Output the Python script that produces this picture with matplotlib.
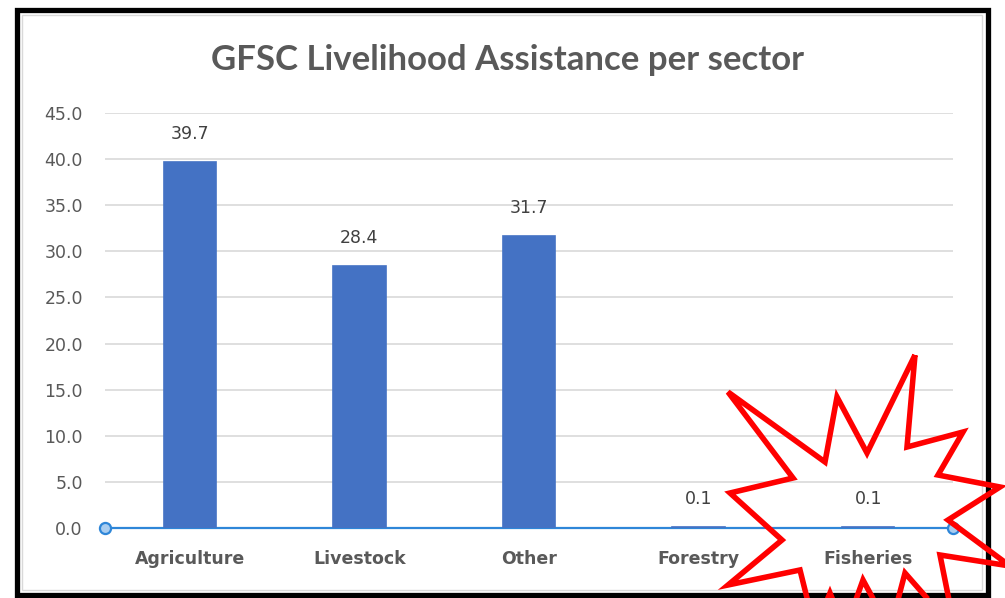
import matplotlib
matplotlib.use("Agg")
import matplotlib.pyplot as plt
from matplotlib.patches import Polygon, Rectangle

categories = ["Agriculture", "Livestock", "Other", "Forestry", "Fisheries"]
values = [39.7, 28.4, 31.7, 0.1, 0.1]
yticks = [0, 5, 10, 15, 20, 25, 30, 35, 40, 45]
title = "GFSC Livelihood Assistance per sector"

W, H = 1005, 598
fig = plt.figure(figsize=(W / 100, H / 100), dpi=100)
fig.patch.set_facecolor("white")

ax = fig.add_axes([105 / W, 1 - 528 / H, (953 - 105) / W, (528 - 113) / H])
ax.set_facecolor("white")
x = list(range(len(categories)))
ax.bar(x, values, width=0.31, color="#4472C4", edgecolor="#4472C4",
       linewidth=1.2, zorder=5)
ax.set_xlim(-0.5, len(categories) - 0.5)
ax.set_ylim(0, 45)
ax.set_yticks(yticks)
ax.set_yticklabels([f"{v:.1f}" for v in yticks])
ax.set_xticks(x)
ax.set_xticklabels(categories)
ax.grid(axis="y", color="#D9D9D9", linewidth=1.2, zorder=0)
for s in ["top", "right", "left", "bottom"]:
    ax.spines[s].set_visible(False)
ax.tick_params(axis="y", length=0, pad=16, labelsize=12.5, labelcolor="#595959")
ax.tick_params(axis="x", length=0, pad=15.5, labelsize=12.5, labelcolor="#595959")
for lab in ax.get_xticklabels():
    lab.set_fontweight("bold")
for lab in ax.get_yticklabels():
    lab.set_fontfamily("DejaVu Sans")

# axis line with circle ends
ax.plot([-0.5, len(categories) - 0.5], [0, 0], color="#2E86D8", linewidth=1.6,
        zorder=4, clip_on=False)
ax.plot([-0.5, len(categories) - 0.5], [0, 0], linestyle="none", marker="o",
        markersize=8, markerfacecolor="#A9CDF0", markeredgecolor="#2E86D8",
        markeredgewidth=1.6, zorder=6, clip_on=False)

for xi, v in zip(x, values):
    ax.annotate(f"{v:.1f}", (xi, v), xytext=(0, 13.5), textcoords="offset points",
                ha="center", va="bottom", fontsize=12.5, color="#404040",
                fontfamily="DejaVu Sans")

fig.text(507 / W, 1 - 60 / H, title, ha="center", va="center",
         fontsize=25, fontweight="bold", color="#595959", fontfamily="Lato")

# inner light border and outer black frame
fig.patches.append(Rectangle((22 / W, 1 - 590 / H), (982 - 22) / W, (590 - 15) / H,
                             transform=fig.transFigure, fill=False,
                             edgecolor="#D9D9D9", linewidth=1))
fig.patches.append(Rectangle((17 / W, 1 - 595 / H), (988 - 17) / W, (595 - 10) / H,
                             transform=fig.transFigure, fill=False,
                             edgecolor="black", linewidth=3.8))

# red starburst decoration
star = [(915, 355), (907, 447), (963, 432), (938, 475), (1000, 487), (948, 520),
        (1010, 566), (940, 555), (955, 630), (905, 573), (890, 630), (863, 580),
        (845, 630), (830, 593), (815, 630), (800, 570), (728, 585), (782, 540),
        (730, 493), (793, 478), (728, 392), (825, 462), (837, 397), (867, 453)]
star_fig = [(px / W, 1 - py / H) for px, py in star]
fig.patches.append(Polygon(star_fig, closed=True, transform=fig.transFigure,
                           fill=False, edgecolor="#FF0000", linewidth=4,
                           joinstyle="miter", zorder=10))

fig.savefig("out.png", dpi=100)
